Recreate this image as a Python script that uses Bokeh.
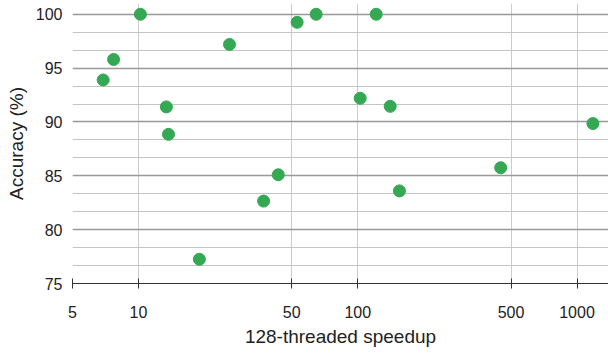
from bokeh.plotting import figure
from bokeh.models import FixedTicker, Range1d
from bokeh.embed import file_html
from bokeh.resources import INLINE

speedup = [10.2, 7.7, 6.9, 26.0, 13.4, 13.7, 52.9, 64.6, 121.4, 102.6, 140.6,
           1182, 43.4, 37.2, 18.95, 154.9, 448.6]
accuracy = [100.0, 95.8, 93.9, 97.2, 91.4, 88.85, 99.25, 100.0, 100.0, 92.2, 91.45,
            89.85, 85.1, 82.65, 77.25, 83.6, 85.75]
x_ticks = [5, 10, 50, 100, 500, 1000]
y_ticks = [75, 80, 85, 90, 95, 100]
y_minor = [t + k * 5 / 3 for t in y_ticks[:-1] for k in (1, 2)]

FONT = "Liberation Sans"

p = figure(width=608, height=354, x_axis_type="log", output_backend="svg",
           toolbar_location=None, x_range=Range1d(5, 1392), y_range=Range1d(75, 101.0),
           min_border_left=72, min_border_right=0, min_border_top=3, min_border_bottom=71)
p.outline_line_color = None
p.background_fill_color = "white"
p.border_fill_color = "white"

# grids
p.xgrid.ticker = FixedTicker(ticks=x_ticks)
p.xgrid.grid_line_color = "#cccccc"
p.xgrid.grid_line_width = 1
p.ygrid.ticker = FixedTicker(ticks=y_ticks)
p.ygrid.grid_line_color = "#999999"
p.ygrid.grid_line_width = 1.4
p.hspan(y=y_minor, line_color="#c4c4c4", line_width=1)

p.scatter(speedup, accuracy, size=12, color="#34a853", line_color="#34a853")

# x axis
p.xaxis.ticker = FixedTicker(ticks=x_ticks)
p.xaxis.major_label_overrides = {t: str(t) for t in x_ticks}
p.xaxis.axis_line_color = "#333333"
p.xaxis.major_tick_line_color = "#333333"
p.xaxis.major_tick_in = 5
p.xaxis.major_tick_out = 5
p.xaxis.minor_tick_line_color = None
p.xaxis.major_label_standoff = 17
p.xaxis.major_label_text_font = FONT
p.xaxis.major_label_text_font_size = "16px"
p.xaxis.major_label_text_color = "#222222"
p.xaxis.axis_label = "128-threaded speedup"
p.xaxis.axis_label_text_font = FONT
p.xaxis.axis_label_text_font_style = "normal"
p.xaxis.axis_label_text_font_size = "19px"
p.xaxis.axis_label_text_color = "#222222"
p.xaxis.axis_label_standoff = 5

# y axis
p.yaxis.ticker = FixedTicker(ticks=y_ticks)
p.yaxis.axis_line_color = None
p.yaxis.major_tick_line_color = None
p.yaxis.major_tick_out = 0
p.yaxis.major_tick_in = 0
p.yaxis.minor_tick_line_color = None
p.yaxis.minor_tick_out = 0
p.yaxis.major_label_standoff = 10
p.yaxis.major_label_text_font = FONT
p.yaxis.major_label_text_font_size = "16px"
p.yaxis.major_label_text_color = "#222222"
p.yaxis.axis_label = "Accuracy (%)"
p.yaxis.axis_label_text_font = FONT
p.yaxis.axis_label_text_font_style = "normal"
p.yaxis.axis_label_text_font_size = "19px"
p.yaxis.axis_label_text_color = "#222222"
p.yaxis.axis_label_standoff = 6

open("out.html", "w").write(file_html(p, INLINE))
